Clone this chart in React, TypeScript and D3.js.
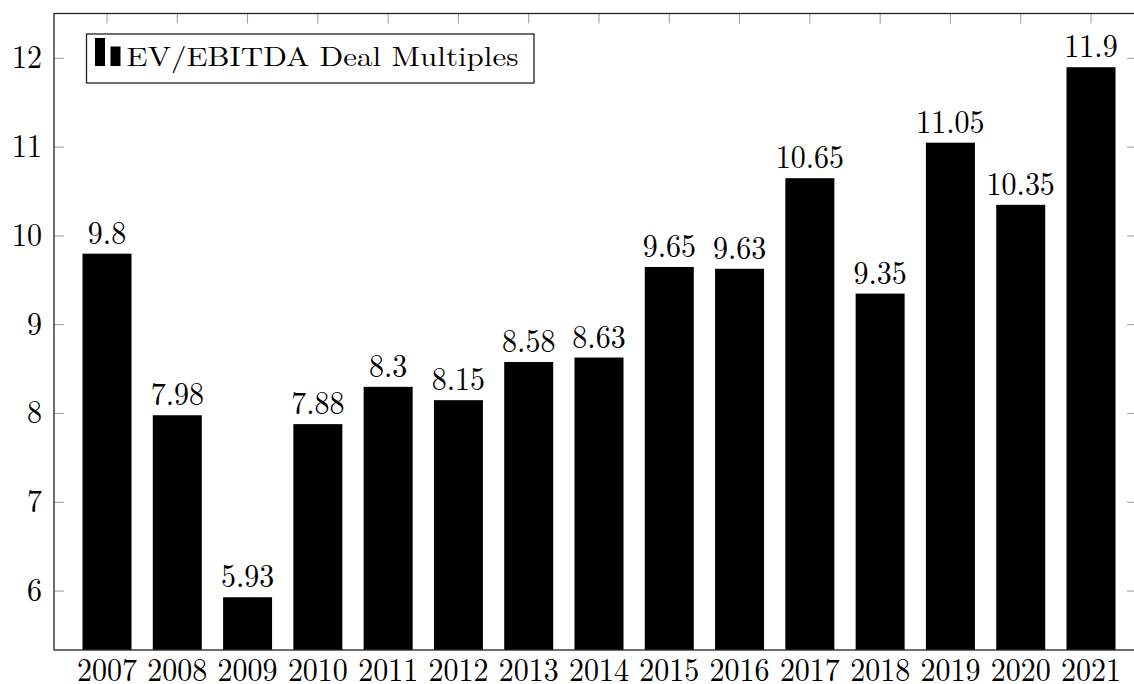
import { useEffect, useRef } from "react";
import * as d3 from "d3";

const years = ["2007", "2008", "2009", "2010", "2011", "2012", "2013", "2014", "2015", "2016", "2017", "2018", "2019", "2020", "2021"];
const multiples = [9.8, 7.98, 5.93, 7.88, 8.3, 8.15, 8.58, 8.63, 9.65, 9.63, 10.65, 9.35, 11.05, 10.35, 11.9];
const yTicks = [6, 7, 8, 9, 10, 11, 12];
const legendLabel = "EV/EBITDA Deal Multiples";

const App = () => {
  const svgRef = useRef<SVGSVGElement | null>(null);

  useEffect(() => {
    const width = 1134;
    const height = 684;
    const left = 54;
    const right = 1135;
    const top = 13.5;
    const bottom = 650;
    const font = "'Latin Modern Roman', 'Liberation Serif', 'DejaVu Serif', serif";
    // reference glyphs are a touch taller than Times at the same width
    const stretch = 1.07;

    const svg = d3.select(svgRef.current).attr("width", width).attr("height", height);
    svg.selectAll("*").remove();

    // x: bar centres 70.3px apart, 2007 centre at 107
    const x = d3
      .scalePoint<string>()
      .domain(years)
      .range([107, 1091]);
    const barWidth = 49;

    const y = d3.scaleLinear().domain([5.336, 12.505]).range([bottom, top]);

    const tickColor = "#999";

    // top ticks at bar centres
    svg
      .append("g")
      .selectAll("line")
      .data(years)
      .join("line")
      .attr("x1", (d) => x(d)!)
      .attr("x2", (d) => x(d)!)
      .attr("y1", top)
      .attr("y2", top + 10)
      .attr("stroke", tickColor)
      .attr("stroke-width", 1);

    // left + right ticks
    const yt = svg.append("g");
    yt.selectAll("line.l")
      .data(yTicks)
      .join("line")
      .attr("class", "l")
      .attr("x1", left)
      .attr("x2", left + 10)
      .attr("y1", (d) => y(d))
      .attr("y2", (d) => y(d))
      .attr("stroke", tickColor);
    yt.selectAll("line.r")
      .data(yTicks)
      .join("line")
      .attr("class", "r")
      .attr("x1", right - 8)
      .attr("x2", right)
      .attr("y1", (d) => y(d))
      .attr("y2", (d) => y(d))
      .attr("stroke", tickColor);

    // bars
    svg
      .append("g")
      .selectAll("rect")
      .data(multiples)
      .join("rect")
      .attr("x", (_, i) => x(years[i])! - barWidth / 2)
      .attr("y", (d) => y(d))
      .attr("width", barWidth)
      .attr("height", (d) => bottom - y(d))
      .attr("fill", "#000");

    // value labels
    svg
      .append("g")
      .selectAll("text")
      .data(multiples)
      .join("text")
      .attr("transform", (d, i) => `translate(${x(years[i])},${y(d) - 10}) scale(1,${stretch})`)
      .attr("text-anchor", "middle")
      .attr("font-family", font)
      .attr("font-size", 30)
      .text((d) => String(d));

    // frame
    svg
      .append("rect")
      .attr("x", left)
      .attr("y", top)
      .attr("width", right - left)
      .attr("height", bottom - top)
      .attr("fill", "none")
      .attr("stroke", "#222")
      .attr("stroke-width", 1.3);

    // y tick labels
    svg
      .append("g")
      .selectAll("text")
      .data(yTicks)
      .join("text")
      .attr("transform", (d) => `translate(42,${y(d) + 10}) scale(1,${stretch})`)
      .attr("text-anchor", "end")
      .attr("font-family", font)
      .attr("font-size", 30)
      .text((d) => String(d));

    // x labels
    svg
      .append("g")
      .selectAll("text")
      .data(years)
      .join("text")
      .attr("transform", (d) => `translate(${x(d)},681) scale(1,${stretch})`)
      .attr("text-anchor", "middle")
      .attr("font-family", font)
      .attr("font-size", 30)
      .text((d) => d);

    // legend
    const legend = svg.append("g").attr("transform", "translate(86.5,34)");
    legend
      .append("rect")
      .attr("width", 447.5)
      .attr("height", 49)
      .attr("fill", "#fff")
      .attr("stroke", "#222")
      .attr("stroke-width", 1.3);
    legend.append("rect").attr("x", 8.5).attr("y", 4).attr("width", 10).attr("height", 28).attr("fill", "#000");
    legend.append("rect").attr("x", 24).attr("y", 12.5).attr("width", 10).attr("height", 19.5).attr("fill", "#000");
    legend
      .append("text")
      .attr("x", 40)
      .attr("y", 31.5)
      .attr("font-family", font)
      .attr("font-size", 27)
      .attr("textLength", 392)
      .attr("lengthAdjust", "spacingAndGlyphs")
      .text(legendLabel);
  }, []);

  return (
    <div style={{ position: "fixed", left: 0, top: 0 }}>
      <svg ref={svgRef} style={{ display: "block", background: "#fff" }} />
    </div>
  );
};

export default App;
